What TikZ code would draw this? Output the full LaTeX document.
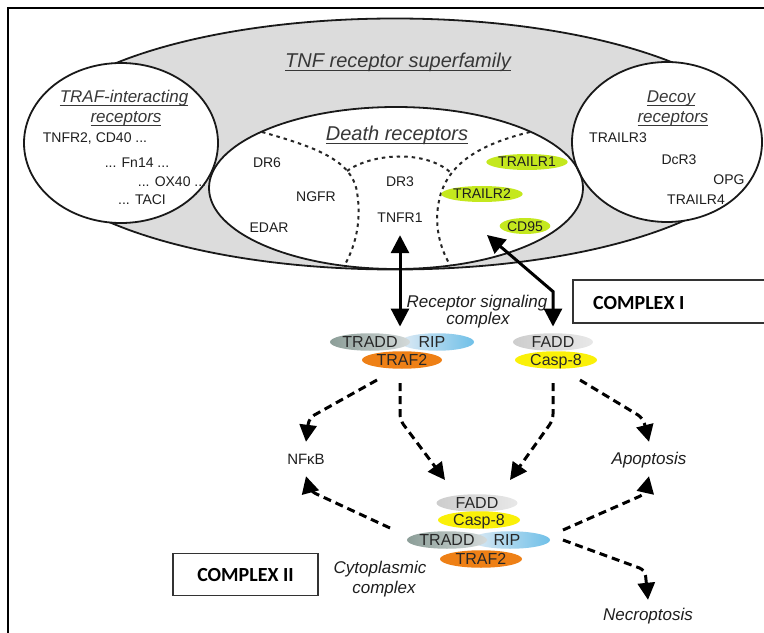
\documentclass[tikz,border=0pt]{standalone}
\usepackage{fontspec}
\setmainfont{Liberation Sans}
\newfontfamily\boxfont{Carlito}
\usetikzlibrary{shapes.geometric,arrows.meta}
\definecolor{sfgray}{RGB}{220,220,220}
\definecolor{trailg}{RGB}{196,232,30}
\definecolor{labc}{RGB}{30,30,30}
\definecolor{ttlc}{RGB}{55,55,55}
\definecolor{protc}{RGB}{40,40,40}
\definecolor{traddL}{RGB}{140,158,152}
\definecolor{traddR}{RGB}{212,218,218}
\definecolor{ripL}{RGB}{222,234,244}
\definecolor{ripR}{RGB}{112,192,232}
\definecolor{orangeC}{RGB}{238,128,22}
\definecolor{faddL}{RGB}{205,205,205}
\definecolor{faddR}{RGB}{232,232,232}
\definecolor{caspC}{RGB}{250,240,8}
\newcommand\myul[1]{\setbox0\hbox{#1}\rlap{\rule[-2.8bp]{\wd0}{1.2bp}}\box0}
\begin{document}
\begin{tikzpicture}[x=1bp,y=-1bp,
  lbl/.style={font=\fontsize{14bp}{16bp}\selectfont, text=labc, inner sep=0pt, anchor=base},
  ttl/.style={font=\fontsize{17bp}{20bp}\selectfont\itshape, text=ttlc, inner sep=0pt, anchor=base},
  bigttl/.style={ttl, font=\fontsize{20bp}{22bp}\selectfont\itshape},
  ital/.style={font=\fontsize{17bp}{20bp}\selectfont\itshape, text=labc, inner sep=0pt, anchor=base},
  outc/.style={ital, text height=12bp, text depth=0bp},
  prot/.style={ellipse, inner sep=0pt, minimum width=80bp, minimum height=17.5bp, text height=11.5bp, text depth=0bp, font=\fontsize{16bp}{16bp}\selectfont, text=protc},
  trail/.style={ellipse, fill=trailg, inner sep=0pt, minimum height=16bp, text height=10bp, text depth=0bp, font=\fontsize{14bp}{16bp}\selectfont, text=labc},
  outl/.style={line width=1.8bp, draw=black!90},
  dline/.style={line width=2bp, dash pattern=on 3.5bp off 4bp, draw=black!85},
  sarrow/.style={line width=3bp, {Triangle[length=18bp,width=18bp]}-{Triangle[length=18bp,width=18bp]}},
  darrow/.style={line width=3bp, dash pattern=on 8bp off 5bp, rounded corners=6bp, -{Triangle[length=17bp,width=17bp]}},
  boxline/.style={line width=1.3bp, draw=black!80},
  boxtxt/.style={font=\boxfont\bfseries\fontsize{20bp}{22bp}\selectfont, inner sep=0pt}
]
\useasboundingbox (0,0) rectangle (764,633);
% frame
\draw[line width=2bp] (766,8) -- (8,8) -- (8,635);
% TNF receptor superfamily
\filldraw[fill=sfgray, outl] (395,144) ellipse [x radius=365, y radius=125.5];
% white fills
\fill[white] (396,188) ellipse [x radius=187, y radius=81];
\fill[white] (121,143) ellipse [x radius=97, y radius=80];
\fill[white] (667,142) ellipse [x radius=95, y radius=80];
% dotted subdivisions of death receptors
\begin{scope}
\clip (396,188) ellipse [x radius=187, y radius=81];
\draw[dline] (262,132) .. controls (315,147) and (352,160) .. (357,192) .. controls (362,222) and (355,248) .. (343,268);
\draw[dline] (347,171) .. controls (372,153) and (425,150) .. (450,172);
\draw[dline] (530,132) .. controls (485,143) and (452,160) .. (441,193) .. controls (432,222) and (440,250) .. (452,268);
\end{scope}
% outlines
\draw[outl] (396,188) ellipse [x radius=187, y radius=81];
\draw[outl] (121,143) ellipse [x radius=97, y radius=80];
\draw[outl] (667,142) ellipse [x radius=95, y radius=80];
% titles
\node[bigttl] (tnfsf) at (398,68) {\myul{TNF receptor superfamily}};
\node[bigttl] (drt) at (397,141) {\myul{Death receptors}};
\node[ttl] (trafa) at (124,103) {\myul{TRAF-interacting}};
\node[ttl] (trafb) at (126,123) {\myul{receptors}};
\node[ttl] (decoya) at (671,103) {\myul{Decoy}};
\node[ttl] (decoyb) at (673,123) {\myul{receptors}};
% TRAF-interacting receptors
\node[lbl] (tnfr2) at (95,143) {TNFR2, CD40 ...};
\node[lbl] (fn14) at (137,168) {... Fn14 ...};
\node[lbl] (ox40) at (172,187) {... OX40 ...};
\node[lbl] (taci) at (142,205) {... TACI};
% death receptors
\node[lbl] (dr6) at (267,168) {DR6};
\node[lbl] (ngfr) at (316,202) {NGFR};
\node[lbl] (edar) at (269,232) {EDAR};
\node[lbl] (dr3) at (400,187) {DR3};
\node[lbl] (tnfr1) at (400,223) {TNFR1};
\node[trail] (trailr1) at (527,162) {TRAILR1};
\node[trail] (trailr2) at (482,194) {TRAILR2};
\node[trail] (cd95) at (525,226) {CD95};
% decoy receptors
\node[lbl] (trailr3) at (618,143) {TRAILR3};
\node[lbl] (dcr3) at (679,165) {DcR3};
\node[lbl] (opg) at (729,185) {OPG};
\node[lbl] (trailr4) at (696,205) {TRAILR4};
% complex I
\node[prot, minimum width=74bp, left color=ripL, right color=ripR] (rip1) at (437,342) {\hspace*{-10bp}RIP};
\node[prot, left color=traddL, right color=traddR] (tradd1) at (370,342) {TRADD};
\node[prot, fill=orangeC] (traf1) at (402,360) {TRAF2};
\node[prot, left color=faddL, right color=faddR] (fadd1) at (553,342) {FADD};
\node[prot, minimum width=82bp, fill=caspC] (casp1) at (556,360) {Casp-8};
\node[ital] (rsc1) at (477,307) {Receptor signaling};
\node[ital] (rsc2) at (478,324) {complex};
% complex II
\node[prot, minimum width=81bp, left color=faddL, right color=faddR] (fadd2) at (477,503) {FADD};
\node[prot, minimum width=82bp, fill=caspC] (casp2) at (479,520) {Casp-8};
\node[prot, left color=ripL, right color=ripR] (rip2) at (510,540) {\hspace*{-6bp}RIP};
\node[prot, left color=traddL, right color=traddR] (tradd2) at (447,540) {TRADD};
\node[prot, minimum width=82bp, fill=orangeC] (traf2) at (481,559) {TRAF2};
\node[ital] (cyt1) at (380,573) {Cytoplasmic};
\node[ital] (cyt2) at (384,593) {complex};
% outcomes
\node[outc, font=\fontsize{15bp}{17bp}\selectfont] (nfkb) at (306,464) {NFκB};
\node[outc] (apop) at (649,464) {Apoptosis};
\node[outc] (necro) at (648,620) {Necroptosis};
% solid arrows
\draw[sarrow, shorten <=12bp, shorten >=6.5bp] (tnfr1.south) -- (tnfr1.south |- tradd1.north);
\draw[sarrow] ([yshift=6.5bp]fadd1.north) -- ++(0,-35) -- ([shift={(-38,9)}]cd95.center);
% dashed arrows
\draw[darrow] ([shift={(-25,20)}]traf1.center) -- (309,418) -- ([yshift=10bp]nfkb.north);
\draw[darrow] ([shift={(-2,23)}]traf1.center) -- ++(0,37) -- ([shift={(-32,-23)}]fadd2.center);
\draw[darrow] ([shift={(-3,23)}]casp1.center) -- ++(0,37) -- ([shift={(33,-23)}]fadd2.center);
\draw[darrow] ([shift={(24,20)}]casp1.center) -- (643,418) -- ([yshift=10bp]apop.north);
\draw[darrow] ([shift={(-57,-12)}]tradd2.center) -- (310,491) -- ([yshift=-12bp]nfkb.south);
\draw[darrow] ([shift={(53,-10)}]rip2.center) -- (645,494) -- ([yshift=-12bp]apop.south);
\draw[darrow] ([shift={(53,0)}]rip2.center) -- (645,570) -- ([yshift=8bp]necro.north);
% complex boxes
\draw[boxline] (766,280) -- (573,280) -- (573,323) -- (766,323);
\node[boxtxt, anchor=base west] (cx1) at (593,309) {COMPLEX I};
\node[boxtxt, draw=black!80, line width=1.3bp, minimum width=145bp, minimum height=42bp, text height=13bp, text depth=0bp] (cx2) at (245.5,574.5) {COMPLEX II};
\end{tikzpicture}
\end{document}
